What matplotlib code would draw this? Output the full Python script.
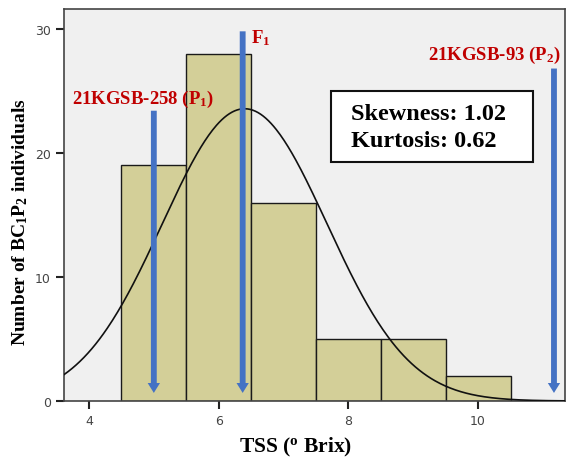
import numpy as np
import matplotlib
matplotlib.use("Agg")
import matplotlib.pyplot as plt
from matplotlib.patches import Rectangle

# histogram bins (TSS, deg Brix) and counts
bin_edges = [4.5, 5.5, 6.5, 7.5, 8.5, 9.5, 10.5]
counts = [19, 28, 16, 5, 5, 2]

# normal fit parameters
fit_mean = 6.4
fit_sd = 1.27

# parent / F1 markers: (x, top of arrow, label)
marker_x = [5.0, 6.37, 11.17]
marker_top = [23.4, 29.8, 26.8]
marker_labels = ["21KGSB-258 (P$_\\mathbf{1}$)", "F$_\\mathbf{1}$", "21KGSB-93 (P$_\\mathbf{2}$)"]

skewness = 1.02
kurtosis = 0.62

plt.rcParams['mathtext.fontset'] = 'custom'
plt.rcParams['mathtext.rm'] = 'Liberation Serif:bold'
plt.rcParams['mathtext.bf'] = 'Liberation Serif:bold'
plt.rcParams['mathtext.it'] = 'Liberation Serif:bold'

fig = plt.figure(figsize=(5.66, 4.64), dpi=100)
ax = fig.add_axes([64/566, 1-402/464, (565-64)/566, (402-10)/464])
ax.set_facecolor('#f0f0f0')

# bars
widths = np.diff(bin_edges)
ax.bar(bin_edges[:-1], counts, width=widths, align='edge',
       color='#d3cf98', edgecolor='#1a1a1a', linewidth=1.0, zorder=2)

# normal curve
n = sum(counts)
xs = np.linspace(3.5, 11.5, 400)
ys = n * 1.0 / (fit_sd*np.sqrt(2*np.pi)) * np.exp(-(xs-fit_mean)**2/(2*fit_sd**2))
ax.plot(xs, ys, color='#111111', lw=1.2, zorder=3)

# arrows
for x, top in zip(marker_x, marker_top):
    ax.arrow(x, top, 0, 0.65-top, width=0.09, head_width=0.19, head_length=0.8,
             length_includes_head=True, color='#4472c4', lw=0, zorder=4)

red = '#c00000'
ax.text(3.74, 24.0, marker_labels[0], color=red, fontsize=13.5, fontweight='bold',
        family='Liberation Serif', ha='left', va='baseline', zorder=5)
ax.text(6.5, 29.3, marker_labels[1], color=red, fontsize=13.5, fontweight='bold',
        family='Liberation Serif', ha='left', va='center', zorder=5)
ax.text(11.28, 27.9, marker_labels[2], color=red, fontsize=13.5, fontweight='bold',
        family='Liberation Serif', ha='right', va='center', zorder=5)

# stats box
ax.add_patch(Rectangle(((332-89)/65+4, (402-163)/12.4), (534-332)/65, (163-92)/12.4,
                       facecolor='white', edgecolor='#111111', lw=1.5, zorder=5))
ax.text(4+(352-89)/65, (402-115)/12.4, "Skewness: %.2f" % skewness, fontsize=17.5,
        fontweight='bold', family='Liberation Serif', va='center', ha='left', zorder=6)
ax.text(4+(352-89)/65, (402-142)/12.4, "Kurtosis: %.2f" % kurtosis, fontsize=17.5,
        fontweight='bold', family='Liberation Serif', va='center', ha='left', zorder=6)

ax.set_xlim(3.615, 11.34)
ax.set_ylim(0, 31.6)
ax.set_xticks([4, 6, 8, 10])
ax.set_yticks([0, 10, 20, 30])
ax.tick_params(direction='out', length=6, width=1.5, color='#222222',
               labelsize=9, labelcolor='#444444')
for s in ax.spines.values():
    s.set_color('#444444')
    s.set_linewidth(1.2)

fig.text(296/566, 1-447/464, "TSS ($^{\\mathbf{o}}$ Brix)", fontsize=15.5, fontweight='bold',
         family='Liberation Serif', ha='center', va='center')
fig.text(20/566, 1-222/464, "Number of BC$_\\mathbf{1}$P$_\\mathbf{2}$ individuals", fontsize=14,
         fontweight='bold', family='Liberation Serif', ha='center', va='center', rotation=90)

fig.savefig("out.png", dpi=100)
